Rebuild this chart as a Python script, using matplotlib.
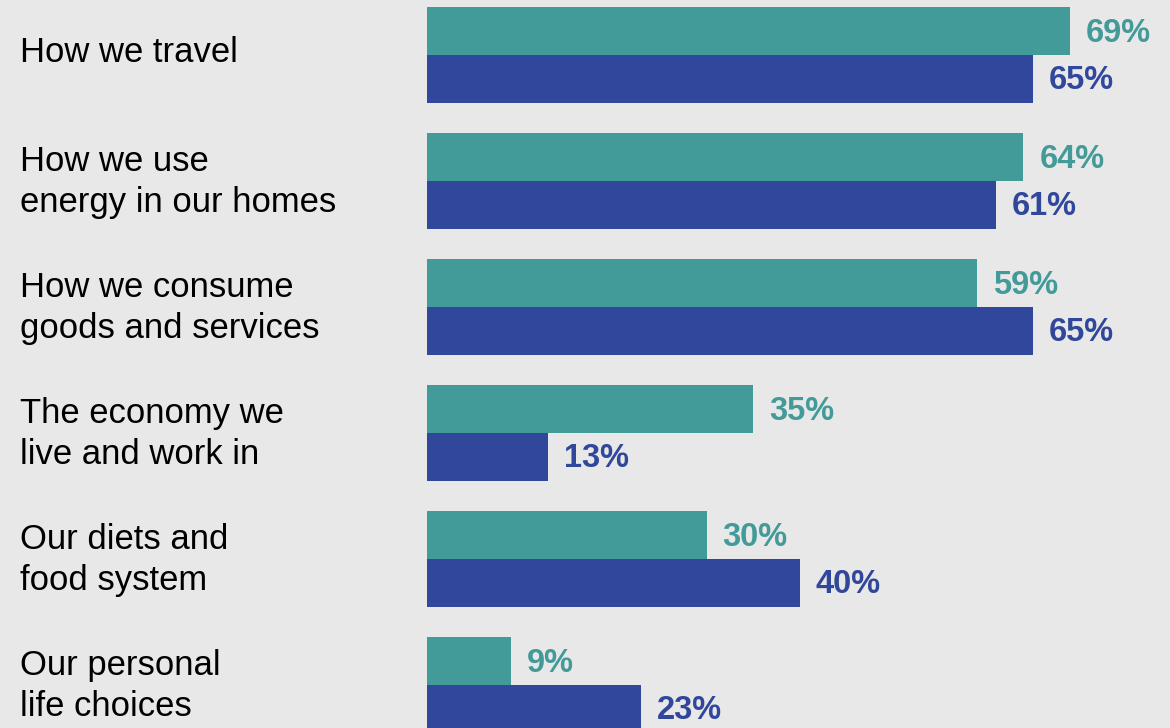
import matplotlib.pyplot as plt
import matplotlib.transforms as mtransforms
import numpy as np

plt.rcParams['font.family'] = ['Liberation Sans', 'DejaVu Sans']

categories = ['How we travel',
              'How we use\nenergy in our homes',
              'How we consume\ngoods and services',
              'The economy we\nlive and work in',
              'Our diets and\nfood system',
              'Our personal\nlife choices']
teal_vals = [69, 64, 59, 35, 30, 9]
blue_vals = [65, 61, 65, 13, 40, 23]

teal = '#429a99'
blue = '#30479b'
bg = '#e8e8e8'

fig = plt.figure(figsize=(11.7, 7.28), dpi=100, facecolor=bg)
ax = fig.add_axes([427 / 1170, 0, 743 / 1170, 1])
ax.set_facecolor(bg)

y = np.arange(len(categories))
h = 0.377
ax.barh(y - h / 2, teal_vals, height=h, color=teal)
ax.barh(y + h / 2, blue_vals, height=h, color=blue)

for yi, v in zip(y, teal_vals):
    ax.annotate(f'{v}%', (v, yi - h / 2), xytext=(11.5, -1.5), textcoords='offset points',
                va='center', ha='left', fontsize=23.5, fontweight='bold', color=teal)
for yi, v in zip(y, blue_vals):
    ax.annotate(f'{v}%', (v, yi + h / 2), xytext=(11.5, -1.5), textcoords='offset points',
                va='center', ha='left', fontsize=23.5, fontweight='bold', color=blue)

# category names sit in the left margin, lined up with each bar pair
trans = mtransforms.blended_transform_factory(fig.transFigure, ax.transData)
for yi, name in zip(y, categories):
    off = 0.005 if '\n' in name else -0.02
    ax.text(20 / 1170, yi + off, name, transform=trans, ha='left', va='center',
            fontsize=24.9, color='black', linespacing=1.3)

ax.set_xlim(0, 743 / 9.32)
ax.set_ylim((728 - 55) / 126, -55 / 126)
ax.axis('off')

fig.savefig('out.png', dpi=100, facecolor=bg)
